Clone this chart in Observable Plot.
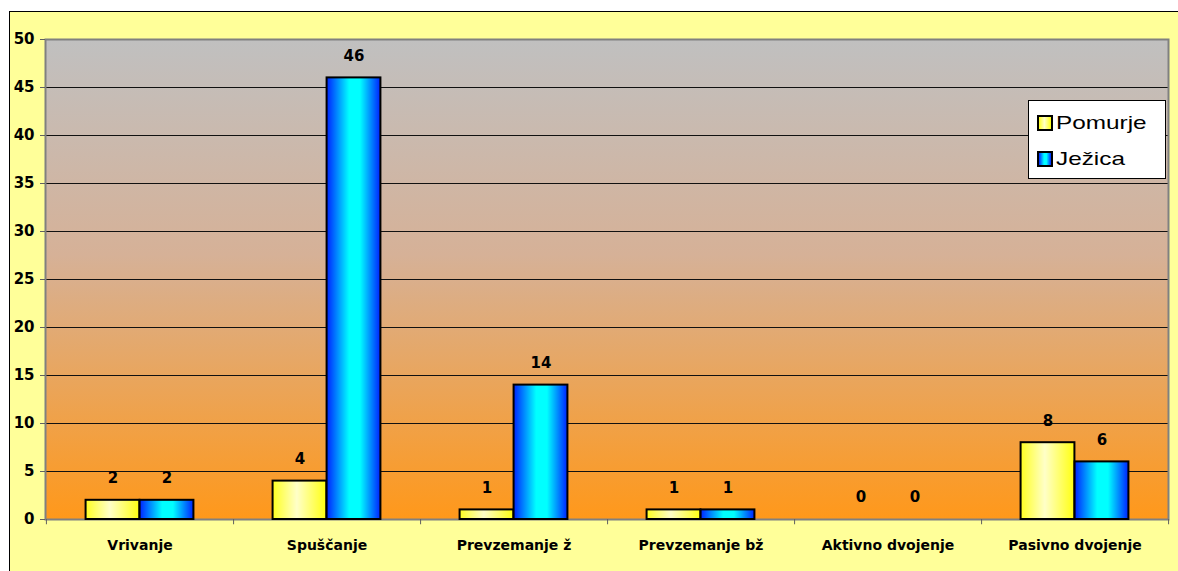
<!DOCTYPE html>
<html>
<head>
<meta charset="utf-8">
<script src="https://cdn.jsdelivr.net/npm/d3@7"></script>
<script src="https://cdn.jsdelivr.net/npm/@observablehq/plot@0.6"></script>
<style>
  html, body { margin: 0; padding: 0; background: #ffffff; }
  body { width: 1178px; height: 571px; overflow: hidden; position: relative; }
  #frame { position: absolute; left: 9px; top: 11px; width: 1169px; height: 560px;
           background: #FFFF99; border-left: 1px solid #000; border-top: 1px solid #000; box-sizing: border-box; }
  #chart { position: absolute; left: 0; top: 0; }
  #chart svg { display: block; background: transparent; }
  #legend { position: absolute; left: 1018px; top: 88px; width: 138px; height: 79px; box-sizing: border-box;
            background: #fff; border: 1px solid #000; font-family: "Liberation Sans", Arial, sans-serif;
            font-size: 19px; color: #000; padding: 4px 0 0 8px; }
  #legend .item { display: flex; align-items: center; height: 36px; }
  #legend .sw { width: 12px; height: 12px; border: 2px solid #000; margin-right: 3px; flex: none; }
  #legend .lbl { display: inline-block; transform: scaleX(1.28); transform-origin: left center; white-space: nowrap; }
</style>
</head>
<body>
<div id="frame">
  <div id="chart"></div>
  <div id="legend"></div>
</div>
<script>
const categories = ["Vrivanje", "Spuščanje", "Prevzemanje ž", "Prevzemanje bž", "Aktivno dvojenje", "Pasivno dvojenje"];
const pomurje = [2, 4, 1, 1, 0, 8];
const jezica = [2, 46, 14, 1, 0, 6];
const seriesNames = ["Pomurje", "Ježica"];
const yTicks = [0, 5, 10, 15, 20, 25, 30, 35, 40, 45, 50];

const data = categories.map((c, i) => ({category: c, pomurje: pomurje[i], jezica: jezica[i]}));

const W = 1168, H = 559;
const mL = 35, mR = 10, mT = 27, mB = 52;
const bw = (W - mL - mR) / categories.length;
const barW = 54;
const font = "DejaVu Sans, sans-serif";

const plot = Plot.plot({
  width: W,
  height: H,
  marginLeft: mL,
  marginRight: mR,
  marginTop: mT,
  marginBottom: mB,
  style: {fontFamily: font, background: "transparent", color: "#000"},
  x: {domain: categories, padding: 0, label: null},
  y: {domain: [0, 50], label: null},
  marks: [
    Plot.frame({fill: "url(#bgGrad)"}),
    Plot.ruleY(yTicks.filter(d => d > 0 && d < 50), {stroke: "#111", strokeWidth: 1}),
    Plot.frame({stroke: "#808080", strokeWidth: 2}),
    Plot.ruleX(categories, {x: d => d, dx: bw / 2, y1: 0, y2: -0.55, stroke: "#606060", strokeWidth: 1}),
    Plot.ruleX([categories[0]], {x: d => d, dx: -bw / 2, y1: 0, y2: -0.55, stroke: "#606060", strokeWidth: 1}),
    Plot.barY(data, {x: "category", y: "pomurje", fill: "url(#yelGrad)", stroke: "#000", strokeWidth: 2,
                     insetLeft: bw / 2 - barW, insetRight: bw / 2}),
    Plot.barY(data, {x: "category", y: "jezica", fill: "url(#cyanGrad)", stroke: "#000", strokeWidth: 2,
                     insetLeft: bw / 2, insetRight: bw / 2 - barW}),
    Plot.text(data, {x: "category", y: "pomurje", text: d => String(d.pomurje), dx: -barW / 2, dy: -22,
                     fontSize: 15, fontWeight: "bold", fill: "#000"}),
    Plot.text(data, {x: "category", y: "jezica", text: d => String(d.jezica), dx: barW / 2, dy: -22,
                     fontSize: 15, fontWeight: "bold", fill: "#000"}),
    Plot.axisY({ticks: yTicks, tickSize: 5, tickPadding: 6, fontSize: 15, fontWeight: "bold", stroke: "#606060", label: null}),
    Plot.axisX({tickSize: 0, tickPadding: 21, fontSize: 14, fontWeight: "bold", label: null})
  ]
});

const svg = d3.select(plot);
const defs = svg.insert("defs", ":first-child");
const bg = defs.append("linearGradient").attr("id", "bgGrad").attr("x1", 0).attr("y1", 0).attr("x2", 0).attr("y2", 1);
bg.append("stop").attr("offset", "0%").attr("stop-color", "#C0C0C0");
bg.append("stop").attr("offset", "45%").attr("stop-color", "#D6B197");
bg.append("stop").attr("offset", "100%").attr("stop-color", "#FF981A");
const yg = defs.append("linearGradient").attr("id", "yelGrad").attr("x1", 0).attr("y1", 0).attr("x2", 1).attr("y2", 0);
yg.append("stop").attr("offset", "0%").attr("stop-color", "#FFFF20");
yg.append("stop").attr("offset", "45%").attr("stop-color", "#FFFFC8");
yg.append("stop").attr("offset", "100%").attr("stop-color", "#FFFF10");
const cg = defs.append("linearGradient").attr("id", "cyanGrad").attr("x1", 0).attr("y1", 0).attr("x2", 1).attr("y2", 0);
cg.append("stop").attr("offset", "0%").attr("stop-color", "#0022FF");
cg.append("stop").attr("offset", "42%").attr("stop-color", "#00FFFF");
cg.append("stop").attr("offset", "62%").attr("stop-color", "#00FFFF");
cg.append("stop").attr("offset", "100%").attr("stop-color", "#0022FF");

document.getElementById("chart").appendChild(plot);

const swatchFills = [
  "linear-gradient(to right, #FFFF20, #FFFFC8 45%, #FFFF10)",
  "linear-gradient(to right, #0022FF, #00FFFF 42%, #00FFFF 62%, #0022FF)"
];
const legend = document.getElementById("legend");
seriesNames.forEach((name, i) => {
  const item = document.createElement("div");
  item.className = "item";
  const sw = document.createElement("span");
  sw.className = "sw";
  sw.style.background = swatchFills[i];
  const label = document.createElement("span");
  label.className = "lbl";
  label.textContent = name;
  item.appendChild(sw);
  item.appendChild(label);
  legend.appendChild(item);
});
</script>
</body>
</html>
